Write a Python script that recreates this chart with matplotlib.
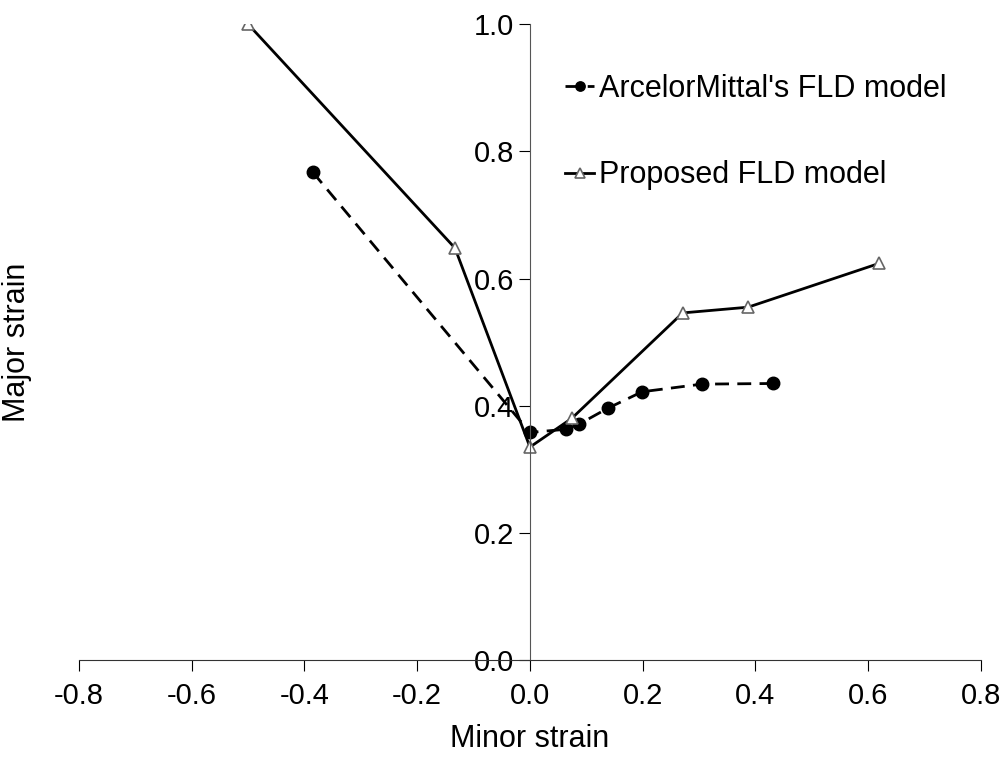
import numpy as np
import matplotlib.pyplot as plt

plt.rcParams['font.family'] = ['Liberation Sans', 'DejaVu Sans']

# ArcelorMittal's FLD model (dots, dashed)
am_minor = [-0.385, 0.0, 0.064, 0.087, 0.138, 0.199, 0.305, 0.431]
am_major = [0.767, 0.358, 0.363, 0.371, 0.396, 0.422, 0.434, 0.435]

# Proposed FLD model (open triangles, solid)
pr_minor = [-0.50, -0.133, 0.0, 0.074, 0.271, 0.387, 0.62]
pr_major = [1.0, 0.648, 0.335, 0.38, 0.546, 0.555, 0.624]

xticks = [-0.8, -0.6, -0.4, -0.2, 0.0, 0.2, 0.4, 0.6, 0.8]
yticks = [0.0, 0.2, 0.4, 0.6, 0.8, 1.0]

fig = plt.figure(figsize=(10.07, 7.57), dpi=100)
ax = fig.add_axes([0.0785, 0.128, 0.8955, 0.84])

ax.plot(am_minor, am_major, color='black', linestyle=(0, (5, 3)), linewidth=2,
        marker='o', markersize=9, markerfacecolor='black', markeredgecolor='black',
        label="ArcelorMittal's FLD model")
ax.plot(pr_minor, pr_major, color='black', linestyle='-', linewidth=2,
        marker='^', markersize=9, markerfacecolor='white', markeredgecolor='#666666',
        markeredgewidth=1.2, label='Proposed FLD model')

ax.set_xlim(-0.8, 0.8)
ax.set_ylim(0, 1.0)

ax.spines['left'].set_position(('data', 0))
ax.spines['right'].set_visible(False)
ax.spines['top'].set_visible(False)
ax.spines['left'].set_color('#555555')
ax.spines['bottom'].set_color('#333333')

ax.set_xticks(xticks)
ax.set_xticklabels(['%.1f' % v for v in xticks])
ax.set_yticks(yticks)
ax.set_yticklabels(['%.1f' % v for v in yticks])
ax.tick_params(axis='both', direction='out', length=8, labelsize=21, colors='black')
ax.tick_params(axis='x', pad=8)

ax.set_xlabel('Minor strain', fontsize=22, labelpad=10)
ax.set_ylabel('Major strain', fontsize=22)
ax.yaxis.set_label_coords(-0.052, 0.5)

leg = ax.legend(loc='upper left', bbox_to_anchor=(0.539, 0.922), frameon=False,
                fontsize=22, handlelength=0.95, handletextpad=0.15, labelspacing=1.85,
                borderpad=0, borderaxespad=0, markerscale=0.75)

fig.savefig('out.png', dpi=100)
